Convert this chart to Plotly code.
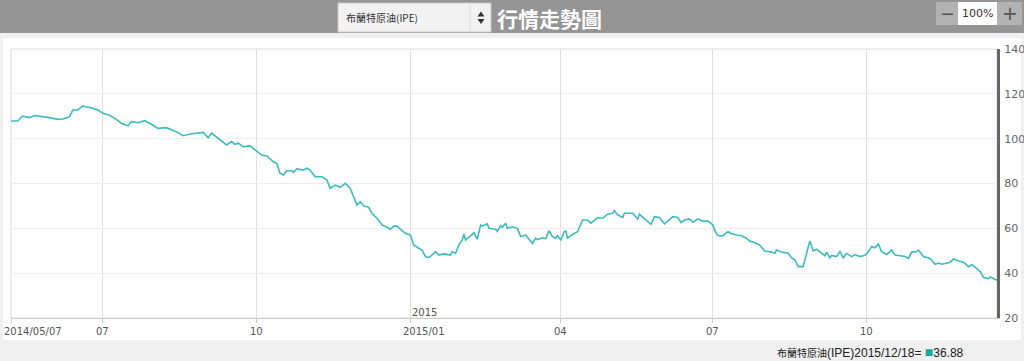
import plotly.graph_objects as go

# ---------------- data ----------------
dates = [
    "2014-05-07", "2014-05-11", "2014-05-14", "2014-05-18", "2014-05-21", "2014-05-26", "2014-05-29",
    "2014-06-04", "2014-06-07", "2014-06-10", "2014-06-11", "2014-06-13", "2014-06-16", "2014-06-19",
    "2014-06-21", "2014-06-24", "2014-06-28", "2014-07-01", "2014-07-05", "2014-07-09", "2014-07-12",
    "2014-07-16", "2014-07-18", "2014-07-22", "2014-07-26", "2014-07-30", "2014-08-03", "2014-08-08",
    "2014-08-11", "2014-08-13", "2014-08-15", "2014-08-18", "2014-08-23", "2014-08-30", "2014-09-02",
    "2014-09-04", "2014-09-08", "2014-09-13", "2014-09-16", "2014-09-18", "2014-09-20", "2014-09-23",
    "2014-09-27", "2014-09-30", "2014-10-04", "2014-10-07", "2014-10-11", "2014-10-13", "2014-10-15",
    "2014-10-17", "2014-10-19", "2014-10-22", "2014-10-23", "2014-10-25", "2014-10-29", "2014-10-31",
    "2014-11-02", "2014-11-05", "2014-11-09", "2014-11-12", "2014-11-14", "2014-11-17", "2014-11-20",
    "2014-11-23", "2014-11-26", "2014-11-28", "2014-11-30", "2014-12-02", "2014-12-04", "2014-12-07",
    "2014-12-09", "2014-12-12", "2014-12-15", "2014-12-18", "2014-12-20", "2014-12-22", "2014-12-24",
    "2014-12-26", "2014-12-29", "2015-01-01", "2015-01-03", "2015-01-06", "2015-01-08", "2015-01-10",
    "2015-01-12", "2015-01-14", "2015-01-16", "2015-01-18", "2015-01-21", "2015-01-25", "2015-01-26",
    "2015-01-28", "2015-01-30", "2015-02-01", "2015-02-02", "2015-02-03", "2015-02-06", "2015-02-08",
    "2015-02-10", "2015-02-12", "2015-02-13", "2015-02-16", "2015-02-17", "2015-02-21", "2015-02-22",
    "2015-02-24", "2015-02-25", "2015-02-27", "2015-02-28", "2015-03-03", "2015-03-06", "2015-03-08",
    "2015-03-11", "2015-03-14", "2015-03-15", "2015-03-17", "2015-03-18", "2015-03-21", "2015-03-23",
    "2015-03-25", "2015-03-27", "2015-03-29", "2015-03-30", "2015-04-01", "2015-04-03", "2015-04-04",
    "2015-04-05", "2015-04-08", "2015-04-11", "2015-04-14", "2015-04-17", "2015-04-19", "2015-04-23",
    "2015-04-26", "2015-04-29", "2015-05-02", "2015-05-03", "2015-05-05", "2015-05-08", "2015-05-09",
    "2015-05-14", "2015-05-17", "2015-05-18", "2015-05-21", "2015-05-25", "2015-05-27", "2015-05-30",
    "2015-06-02", "2015-06-04", "2015-06-07", "2015-06-10", "2015-06-12", "2015-06-14", "2015-06-17",
    "2015-06-19", "2015-06-22", "2015-06-25", "2015-06-27", "2015-06-28", "2015-07-01", "2015-07-02",
    "2015-07-04", "2015-07-07", "2015-07-10", "2015-07-12", "2015-07-15", "2015-07-18", "2015-07-21",
    "2015-07-23", "2015-07-27", "2015-07-29", "2015-08-01", "2015-08-05", "2015-08-07", "2015-08-08",
    "2015-08-11", "2015-08-15", "2015-08-17", "2015-08-19", "2015-08-21", "2015-08-24", "2015-08-28",
    "2015-08-30", "2015-09-01", "2015-09-04", "2015-09-06", "2015-09-07", "2015-09-09", "2015-09-10",
    "2015-09-13", "2015-09-15", "2015-09-17", "2015-09-19", "2015-09-22", "2015-09-24", "2015-09-27",
    "2015-09-30", "2015-10-02", "2015-10-04", "2015-10-06", "2015-10-08", "2015-10-10", "2015-10-13",
    "2015-10-16", "2015-10-18", "2015-10-22", "2015-10-24", "2015-10-26", "2015-10-28", "2015-10-31",
    "2015-11-01", "2015-11-04", "2015-11-08", "2015-11-11", "2015-11-13", "2015-11-15", "2015-11-17",
    "2015-11-20", "2015-11-22", "2015-11-25", "2015-11-28", "2015-12-01", "2015-12-03", "2015-12-05",
    "2015-12-08", "2015-12-10", "2015-12-13", "2015-12-14", "2015-12-17", "2015-12-18",
]
prices = [
    107.9, 107.9, 110.1, 109.4, 110.3, 110.0, 109.5,
    108.6, 108.8, 109.5, 109.7, 112.8, 112.8, 114.6,
    114.1, 113.8, 112.8, 111.3, 110.4, 108.6, 106.9,
    105.7, 107.6, 107.1, 108.0, 106.4, 104.6, 104.9,
    103.9, 103.6, 102.7, 101.3, 102.2, 102.8, 100.4,
    102.5, 100.2, 97.2, 98.7, 97.5, 98.0, 96.4,
    96.8, 95.0, 92.7, 92.3, 89.7, 89.0, 84.6,
    83.8, 85.7, 85.7, 85.0, 86.5, 86.0, 86.8,
    86.0, 83.0, 83.0, 81.6, 77.9, 79.3, 78.3,
    80.1, 77.9, 74.1, 70.4, 71.9, 70.0, 69.4,
    66.7, 64.5, 61.5, 60.5, 59.6, 61.0, 61.0,
    59.6, 57.8, 57.0, 52.6, 51.1, 50.3, 47.4,
    46.9, 48.1, 49.6, 48.1, 48.6, 48.1, 49.6,
    48.8, 52.6, 54.8, 57.5, 54.8, 57.0, 58.0,
    55.1, 61.5, 61.0, 62.0, 60.0, 59.6, 58.6,
    61.2, 60.5, 62.3, 60.0, 60.7, 60.0, 56.3,
    57.0, 54.1, 53.3, 55.6, 55.0, 55.8, 55.4,
    59.0, 56.3, 55.6, 56.7, 54.8, 58.5, 58.8,
    55.6, 57.3, 58.5, 63.7, 63.7, 62.3, 64.8,
    64.5, 66.3, 66.7, 67.9, 66.0, 64.8, 66.7,
    66.7, 64.2, 66.3, 64.2, 61.8, 65.2, 64.8,
    62.0, 63.2, 65.2, 64.8, 62.6, 63.7, 64.2,
    62.7, 64.2, 63.2, 63.0, 63.2, 61.5, 59.3,
    56.7, 56.7, 58.5, 57.7, 57.0, 56.7, 55.6,
    54.3, 53.3, 52.5, 49.9, 49.4, 48.8, 50.3,
    49.4, 48.9, 46.9, 46.0, 42.9, 42.9, 54.4,
    49.9, 50.7, 48.8, 47.8, 49.4, 46.9, 47.9,
    47.4, 49.6, 46.9, 48.8, 47.4, 48.3, 47.4,
    48.0, 49.6, 51.9, 51.3, 52.9, 49.6, 48.3,
    50.3, 48.1, 47.8, 47.4, 46.6, 49.4, 49.7,
    50.3, 47.4, 46.6, 44.0, 44.5, 44.0, 44.5,
    44.9, 46.3, 45.4, 44.9, 42.9, 43.8, 42.4,
    40.7, 38.0, 37.6, 38.3, 37.0, 36.88,
]

x_tick_dates = ["2014-05-07", "2014-07-01", "2014-10-01", "2015-01-01",
                "2015-04-01", "2015-07-01", "2015-10-01"]
x_tick_labels = ["2014/05/07", "07", "10", "2015/01", "04", "07", "10"]
y_ticks = [20, 40, 60, 80, 100, 120, 140]

series_name = "布蘭特原油(IPE)"
title_text = "行情走勢圖"
last_date_label = "2015/12/18"
last_value = 36.88

# ---------------- layout helpers ----------------
W_FIG, H_FIG = 1024, 361
L, R, T, B = 11, 997, 49, 318
PW, PH = R - L, B - T


def px(x):
    return (x - L) / PW


def py(y):
    return (B - y) / PH


LINE_COLOR = "#3bbdbd"
TEAL = "#16a8a2"
CJK = "Noto Sans CJK TC, Noto Sans CJK SC, sans-serif"
LAT = "DejaVu Sans, sans-serif"

fig = go.Figure()
fig.add_trace(go.Scatter(
    x=dates, y=prices, mode="lines",
    line=dict(color=LINE_COLOR, width=1.6),
    hoverinfo="skip", showlegend=False,
))

shapes = []
# white panel
shapes.append(dict(type="rect", xref="paper", yref="paper", layer="below",
                   x0=px(3), x1=px(1021), y0=py(340), y1=py(38),
                   fillcolor="white", line=dict(width=0)))
# header bar
shapes.append(dict(type="rect", xref="paper", yref="paper", layer="below",
                   x0=px(0), x1=px(1024), y0=py(33), y1=py(0),
                   fillcolor="#959595", line=dict(width=0)))
# dropdown box
shapes.append(dict(type="rect", xref="paper", yref="paper", layer="below",
                   x0=px(338), x1=px(491), y0=py(32), y1=py(3),
                   fillcolor="#f2f2f2", line=dict(color="#c9c9c9", width=1)))
shapes.append(dict(type="line", xref="paper", yref="paper", layer="below",
                   x0=px(470), x1=px(470), y0=py(31), y1=py(4),
                   line=dict(color="#dcdcdc", width=1)))
# up / down arrows
shapes.append(dict(type="path", xref="paper", yref="paper", layer="above",
                   path=f"M {px(477.5)} {py(16.5)} L {px(484.5)} {py(16.5)} L {px(481)} {py(11.5)} Z",
                   fillcolor="#333", line=dict(width=0)))
shapes.append(dict(type="path", xref="paper", yref="paper", layer="above",
                   path=f"M {px(477.5)} {py(19)} L {px(484.5)} {py(19)} L {px(481)} {py(24)} Z",
                   fillcolor="#333", line=dict(width=0)))
# zoom controls
shapes.append(dict(type="rect", xref="paper", yref="paper", layer="below",
                   x0=px(936), x1=px(958), y0=py(25), y1=py(2),
                   fillcolor="#b2b2b2", line=dict(width=0)))
shapes.append(dict(type="rect", xref="paper", yref="paper", layer="below",
                   x0=px(958), x1=px(997), y0=py(25), y1=py(2),
                   fillcolor="white", line=dict(width=0)))
shapes.append(dict(type="rect", xref="paper", yref="paper", layer="below",
                   x0=px(997), x1=px(1022), y0=py(25), y1=py(2),
                   fillcolor="#b2b2b2", line=dict(width=0)))
# plot frame (light)
shapes.append(dict(type="rect", xref="paper", yref="paper", layer="below",
                   x0=0, x1=1, y0=0, y1=1,
                   fillcolor="rgba(0,0,0,0)", line=dict(color="#dcdcdc", width=1)))

annotations = []
annotations.append(dict(xref="paper", yref="paper", x=px(344), y=py(18),
                        xanchor="left", yanchor="middle", showarrow=False,
                        text=series_name, font=dict(family=CJK, size=10, color="#333")))
annotations.append(dict(xref="paper", yref="paper", x=px(495), y=py(17.5),
                        xanchor="left", yanchor="middle", showarrow=False,
                        text=f"<b>{title_text}</b>",
                        font=dict(family=CJK, size=21, color="#ffffff")))
annotations.append(dict(xref="paper", yref="paper", x=px(947), y=py(13),
                        xanchor="center", yanchor="middle", showarrow=False,
                        text="−", font=dict(family=LAT, size=18, color="#555")))
annotations.append(dict(xref="paper", yref="paper", x=px(977.5), y=py(13.5),
                        xanchor="center", yanchor="middle", showarrow=False,
                        text="100%", font=dict(family=LAT, size=11, color="#333")))
annotations.append(dict(xref="paper", yref="paper", x=px(1010), y=py(13),
                        xanchor="center", yanchor="middle", showarrow=False,
                        text="+", font=dict(family=LAT, size=19, color="#555")))

# x tick labels
for d, lab in zip(x_tick_dates, x_tick_labels):
    long = len(lab) > 2
    annotations.append(dict(xref="x", yref="paper", x=d, y=py(331.5),
                            xanchor="left" if long else "center", yanchor="middle",
                            xshift=-9 if long else 0, showarrow=False, text=lab,
                            font=dict(family=LAT, size=10, color="#555")))
annotations.append(dict(xref="x", yref="paper", x="2015-01-01", y=py(312),
                        xanchor="left", yanchor="middle", xshift=0, showarrow=False,
                        text="2015", font=dict(family=LAT, size=10, color="#555")))

# bottom caption
annotations.append(dict(
    xref="paper", yref="paper", x=px(775), y=py(352), xanchor="left", yanchor="middle",
    showarrow=False,
    text=(f"<span style='font-family:{CJK};font-size:10px'>{series_name[:5]}</span>"
          f"{series_name[5:]}{last_date_label}= "
          f"<span style='color:{TEAL};font-size:14px'>■</span>{last_value:.2f}"),
    font=dict(family="Liberation Sans, Arial, sans-serif", size=12, color="#222"),
))

fig.update_layout(
    width=W_FIG, height=H_FIG,
    margin=dict(l=L, r=W_FIG - R, t=T, b=H_FIG - B, pad=0, autoexpand=False),
    paper_bgcolor="#eff0ef",
    plot_bgcolor="rgba(0,0,0,0)",
    showlegend=False,
    shapes=shapes,
    annotations=annotations,
    xaxis=dict(
        type="date", range=["2014-05-07", "2015-12-18"],
        tickvals=x_tick_dates, showticklabels=False,
        ticks="outside", ticklen=4, tickcolor="#cccccc", tickwidth=1,
        showgrid=True, gridcolor="#e0e0e0", gridwidth=1,
        showline=True, linecolor="#cccccc", linewidth=1,
        zeroline=False, fixedrange=True, automargin=False,
    ),
    yaxis=dict(
        side="right", range=[20, 140], tickvals=y_ticks,
        showgrid=True, gridcolor="#eeeeee", gridwidth=1,
        showline=True, linecolor="#666666", linewidth=3,
        ticks="", ticklabelstandoff=2,
        tickfont=dict(family=LAT, size=11, color="#666"),
        zeroline=False, fixedrange=True, automargin=False,
    ),
)

fig.write_html("out.html", config={"displayModeBar": False, "staticPlot": True})
